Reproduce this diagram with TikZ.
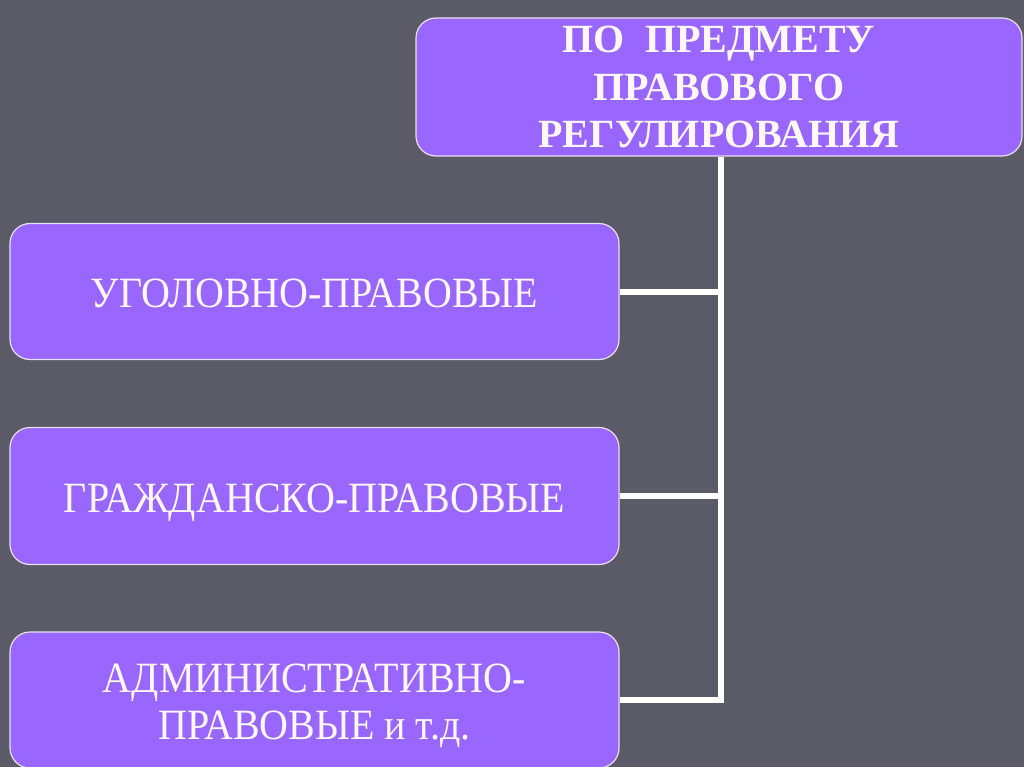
\documentclass[tikz,border=0pt]{standalone}
\usepackage{fontspec}
\usepackage{graphicx}
\setmainfont{Liberation Serif}
\definecolor{bgc}{HTML}{5A5B66}
\definecolor{boxc}{HTML}{9966FF}
\definecolor{edgec}{HTML}{E8E0F4}
\definecolor{txtc}{HTML}{FFF8F4}
% #1 = raise of first baseline above the box centre
\newcommand{\btext}[2]{\raisebox{#1}[0pt][0pt]{\scalebox{1}[1.08]{\begin{tabular}[t]{@{}c@{}}#2\end{tabular}}}}
\newcommand{\ttext}[2]{\raisebox{#1}[0pt][0pt]{\begin{tabular}[t]{@{}c@{}}#2\end{tabular}}}
\tikzset{
  pbox/.style={draw=edgec, line width=1.2pt, fill=boxc, rounded corners=20pt,
    text=txtc, align=center, inner sep=0pt},
  body/.style={font=\fontsize{40}{44.4}\selectfont},
  title/.style={font=\bfseries\fontsize{40}{47.5}\selectfont},
  conn/.style={draw=white, line width=6pt},
}
\begin{document}
\begin{tikzpicture}[x=1pt,y=-1pt]
\fill[bgc] (0,0) rectangle (1024,767);
\useasboundingbox (0,0) rectangle (1024,767);
\node[pbox, title, minimum width=606pt, minimum height=138pt] (top) at (719,87)
  {\ttext{34pt}{ПО\enspace ПРЕДМЕТУ\\ПРАВОВОГО\\РЕГУЛИРОВАНИЯ}};
\node[pbox, body, minimum width=609pt, minimum height=136pt] (b1) at (314.5,291.5)
  {\btext{-15.5pt}{УГОЛОВНО-ПРАВОВЫЕ}};
\node[pbox, body, minimum width=609pt, minimum height=137pt] (b2) at (314.5,496)
  {\btext{-16pt}{ГРАЖДАНСКО-ПРАВОВЫЕ}};
\node[pbox, body, minimum width=609pt, minimum height=136pt] (b3) at (314.5,700)
  {\btext{8pt}{АДМИНИСТРАТИВНО-\\ПРАВОВЫЕ и т.д.}};
\coordinate (v) at (720.5,0);
\draw[conn] (top.south -| v) -- (b3.east -| v) -- (b3.east);
\draw[conn] (b1.east) -- (b1.east -| v);
\draw[conn] (b2.east) -- (b2.east -| v);
\end{tikzpicture}
\end{document}
